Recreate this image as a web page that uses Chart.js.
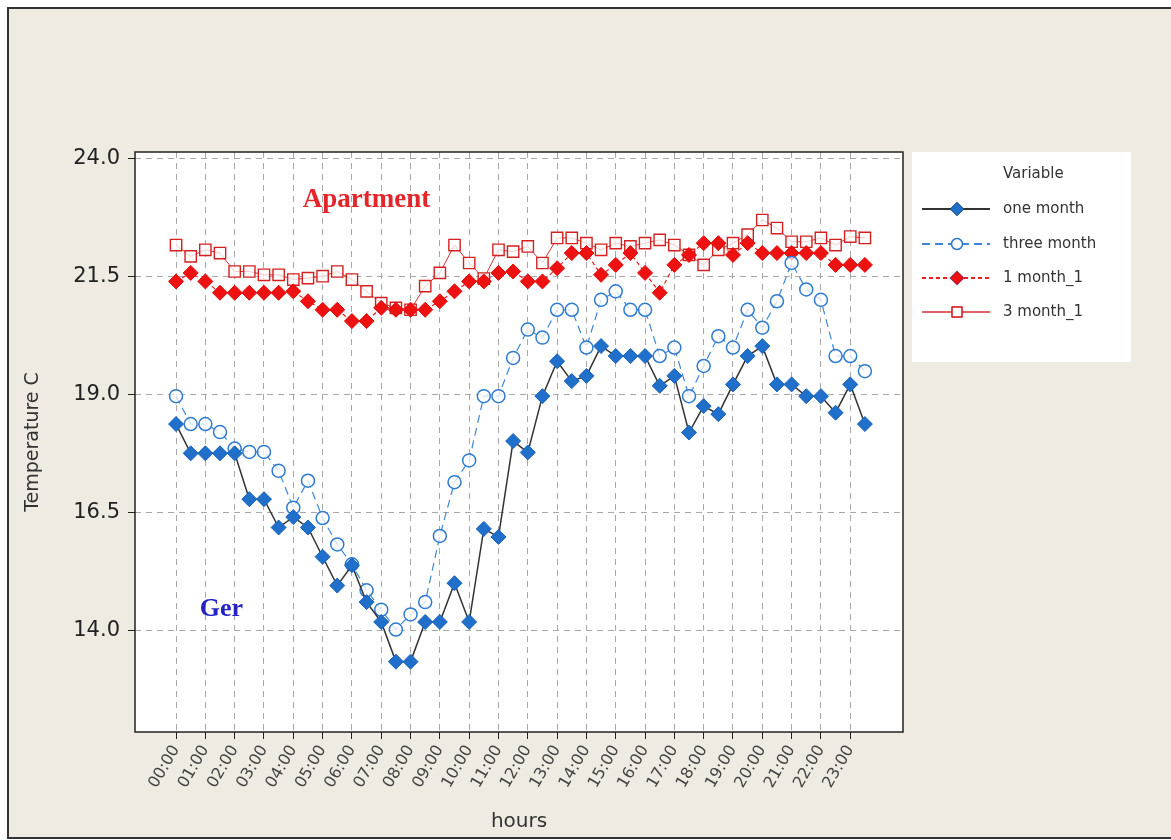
<!DOCTYPE html>
<html>

<head>
  <title>Temperature by hour</title>
  <script src="https://cdn.jsdelivr.net/npm/chart.js"></script>
  <style>
    body { margin: 0; background: #fff; }
  </style>
</head>

<body>
  <canvas id="myChart" width="1171" height="840"></canvas>
  <script>
    // half-hour readings, 00:00 .. 23:30
    var hours = [0, 0.5, 1, 1.5, 2, 2.5, 3, 3.5, 4, 4.5, 5, 5.5, 6, 6.5, 7, 7.5, 8, 8.5, 9, 9.5, 10, 10.5, 11, 11.5,
      12, 12.5, 13, 13.5, 14, 14.5, 15, 15.5, 16, 16.5, 17, 17.5, 18, 18.5, 19, 19.5, 20, 20.5, 21, 21.5, 22, 22.5, 23, 23.5];

    var tickHours = [0, 1, 2, 3, 4, 5, 6, 7, 8, 9, 10, 11, 12, 13, 14, 15, 16, 17, 18, 19, 20, 21, 22, 23];
    var tickLabels = ['00:00', '01:00', '02:00', '03:00', '04:00', '05:00', '06:00', '07:00', '08:00', '09:00', '10:00', '11:00',
      '12:00', '13:00', '14:00', '15:00', '16:00', '17:00', '18:00', '19:00', '20:00', '21:00', '22:00', '23:00'];
    var yTicks = [14.0, 16.5, 19.0, 21.5, 24.0];

    // Ger
    var oneMonth = [18.37, 17.75, 17.75, 17.75, 17.75, 16.78, 16.78, 16.18, 16.4, 16.18, 15.56, 14.95, 15.38, 14.6, 14.18, 13.34,
      13.34, 14.18, 14.18, 15.0, 14.18, 16.15, 15.98, 18.01, 17.77, 18.96, 19.7, 19.28, 19.39, 20.02, 19.81, 19.81,
      19.81, 19.18, 19.39, 18.19, 18.75, 18.58, 19.21, 19.81, 20.02, 19.21, 19.21, 18.96, 18.96, 18.61, 19.21, 18.37];
    var threeMonth = [18.96, 18.37, 18.37, 18.2, 17.85, 17.78, 17.78, 17.38, 16.6, 17.17, 16.38, 15.82, 15.4, 14.85, 14.44, 14.02,
      14.34, 14.6, 16.0, 17.14, 17.6, 18.96, 18.96, 19.77, 20.37, 20.2, 20.79, 20.79, 19.99, 21.0, 21.18, 20.79,
      20.79, 19.81, 19.99, 18.96, 19.6, 20.23, 19.99, 20.79, 20.41, 20.97, 21.78, 21.22, 21.0, 19.81, 19.81, 19.49];
    // Apartment
    var oneMonth1 = [21.39, 21.57, 21.39, 21.15, 21.15, 21.15, 21.15, 21.15, 21.18, 20.97, 20.79, 20.79, 20.55, 20.55, 20.83, 20.79,
      20.79, 20.79, 20.97, 21.18, 21.39, 21.39, 21.57, 21.6, 21.39, 21.39, 21.67, 21.99, 21.99, 21.53, 21.74, 21.99,
      21.57, 21.15, 21.74, 21.95, 22.2, 22.2, 21.95, 22.2, 21.99, 21.99, 21.99, 21.99, 21.99, 21.74, 21.74, 21.74];
    var threeMonth1 = [22.16, 21.92, 22.06, 21.99, 21.6, 21.6, 21.53, 21.53, 21.43, 21.46, 21.5, 21.6, 21.43, 21.18, 20.93, 20.83,
      20.79, 21.29, 21.57, 22.16, 21.78, 21.45, 22.06, 22.02, 22.13, 21.78, 22.31, 22.31, 22.2, 22.06, 22.2, 22.13,
      22.2, 22.27, 22.16, 21.95, 21.74, 22.06, 22.2, 22.38, 22.69, 22.52, 22.23, 22.23, 22.31, 22.16, 22.34, 22.31];

    function pts(vals) {
      return vals.map(function (v, i) { return { x: hours[i], y: v }; });
    }

    var PLOT = { left: 135, top: 152, right: 903, bottom: 732 };

    var frame = {
      id: 'frame',
      beforeDraw: function (chart) {
        var c = chart.ctx, a = chart.chartArea;
        c.save();
        c.fillStyle = '#fff';
        c.fillRect(0, 0, chart.width, chart.height);
        c.fillStyle = '#efebe2';
        c.fillRect(8, 8, chart.width, chart.height - 10);
        c.strokeStyle = '#333';
        c.lineWidth = 2;
        c.strokeRect(8, 8, chart.width, chart.height - 10);
        c.fillStyle = '#fff';
        c.fillRect(a.left, a.top, a.right - a.left, a.bottom - a.top);
        c.restore();
      },
      beforeDatasetsDraw: function (chart) {
        var c = chart.ctx, a = chart.chartArea;
        c.save();
        c.strokeStyle = '#222';
        c.lineWidth = 1.5;
        c.strokeRect(a.left, a.top, a.right - a.left, a.bottom - a.top);
        c.restore();
      },
      afterDatasetsDraw: function (chart) {
        var c = chart.ctx, xs = chart.scales.x, ys = chart.scales.y;
        c.save();
        c.textAlign = 'center';
        c.textBaseline = 'alphabetic';
        c.font = 'bold 27px "Liberation Serif"';
        c.fillStyle = '#e4262b';
        c.fillText('Apartment', xs.getPixelForValue(6.5), ys.getPixelForValue(22.97));
        c.font = 'bold 26px "Liberation Serif"';
        c.fillStyle = '#2424c4';
        c.fillText('Ger', xs.getPixelForValue(1.55), ys.getPixelForValue(14.3));
        c.restore();
      }
    };

    // legend drawn in its own white box on the right
    var sideLegend = {
      id: 'sideLegend',
      afterDraw: function (chart) {
        var c = chart.ctx;
        c.save();
        c.fillStyle = '#fff';
        c.fillRect(912, 152, 219, 210);
        c.fillStyle = '#333';
        c.font = '15px "DejaVu Sans"';
        c.textBaseline = 'middle';
        c.fillText('Variable', 1003, 174);
        var rows = [209, 244, 278, 312];
        chart.data.datasets.forEach(function (ds, i) {
          var y = rows[i];
          c.save();
          c.strokeStyle = ds.borderColor;
          c.lineWidth = ds.borderWidth + 0.6;
          c.setLineDash(ds.borderDash || []);
          c.beginPath();
          c.moveTo(922, y);
          c.lineTo(990, y);
          c.stroke();
          c.restore();
          Chart.helpers.drawPoint(c, {
            pointStyle: ds.pointStyle,
            radius: ds.pointRadius - 1,
            borderWidth: ds.pointBorderWidth
          }, 957, y);
          c.fillStyle = ds.pointStyle === 'circle' || ds.pointStyle === 'rect' ? '#fff' : ds.pointBackgroundColor;
          c.strokeStyle = ds.pointBorderColor;
          c.lineWidth = ds.pointBorderWidth;
          c.fill();
          c.stroke();
          c.fillStyle = '#333';
          c.fillText(ds.label, 1003, y);
        });
        c.restore();
      }
    };

    var ctx = document.getElementById('myChart').getContext('2d');
    var myChart = new Chart(ctx, {
      type: 'line',
      data: {
        datasets: [{
          label: 'one month',
          data: pts(oneMonth),
          borderColor: '#333',
          borderWidth: 1.5,
          pointStyle: 'rectRot',
          pointRadius: 7.5,
          pointBackgroundColor: '#1f6fcb',
          pointBorderColor: '#1a63b8',
          pointBorderWidth: 1
        }, {
          label: 'three month',
          data: pts(threeMonth),
          borderColor: '#3d87d8',
          borderWidth: 1.2,
          borderDash: [8, 5],
          pointStyle: 'circle',
          pointRadius: 6.5,
          pointBackgroundColor: 'rgba(255,255,255,0.75)',
          pointBorderColor: '#2f7bd0',
          pointBorderWidth: 1.5
        }, {
          label: '1 month_1',
          data: pts(oneMonth1),
          borderColor: '#ee1c1c',
          borderWidth: 1.2,
          borderDash: [4, 3],
          pointStyle: 'rectRot',
          pointRadius: 7.5,
          pointBackgroundColor: '#ee1111',
          pointBorderColor: '#e00d0d',
          pointBorderWidth: 1
        }, {
          label: '3 month_1',
          data: pts(threeMonth1),
          borderColor: '#d43030',
          borderWidth: 1,
          pointStyle: 'rect',
          pointRadius: 8,
          pointBackgroundColor: 'rgba(255,255,255,0.75)',
          pointBorderColor: '#d42020',
          pointBorderWidth: 1.4
        }]
      },
      options: {
        responsive: false,
        animation: false,
        devicePixelRatio: 1,
        layout: { padding: { left: 0, top: PLOT.top, right: 1171 - PLOT.right, bottom: 0 } },
        plugins: { legend: { display: false }, tooltip: { enabled: false } },
        elements: { line: { tension: 0 } },
        scales: {
          x: {
            type: 'linear',
            min: -1.4,
            max: 24.8,
            afterFit: function (s) { s.height = 840 - PLOT.bottom; },
            afterBuildTicks: function (s) { s.ticks = tickHours.map(function (h) { return { value: h }; }); },
            ticks: {
              autoSkip: false,
              minRotation: 60,
              maxRotation: 60,
              padding: 3,
              color: '#444',
              font: { family: 'DejaVu Sans', size: 16 },
              callback: function (v) { return tickLabels[tickHours.indexOf(v)]; }
            },
            grid: { color: '#a8a8a8', lineWidth: 1, tickLength: 7, tickColor: '#222', tickBorderDash: [] },
            border: { display: false, dash: [6, 5] },
            title: { display: true, text: 'hours', color: '#333', font: { family: 'DejaVu Sans', size: 20 }, padding: { top: 0, bottom: 6 } }
          },
          y: {
            min: 11.85,
            max: 24.13,
            afterFit: function (s) { s.width = PLOT.left; },
            afterBuildTicks: function (s) { s.ticks = yTicks.map(function (v) { return { value: v }; }); },
            ticks: {
              padding: 8,
              color: '#222',
              font: { family: 'DejaVu Sans', size: 21 },
              callback: function (v) { return v.toFixed(1); }
            },
            grid: { color: '#a8a8a8', lineWidth: 1, tickLength: 7, tickColor: '#222', tickBorderDash: [] },
            border: { display: false, dash: [6, 5] },
            title: { display: true, text: 'Temperature C', color: '#333', font: { family: 'DejaVu Sans', size: 19 }, padding: { top: 22, bottom: 0 } }
          }
        }
      },
      plugins: [frame, sideLegend]
    });
  </script>
</body>

</html>
